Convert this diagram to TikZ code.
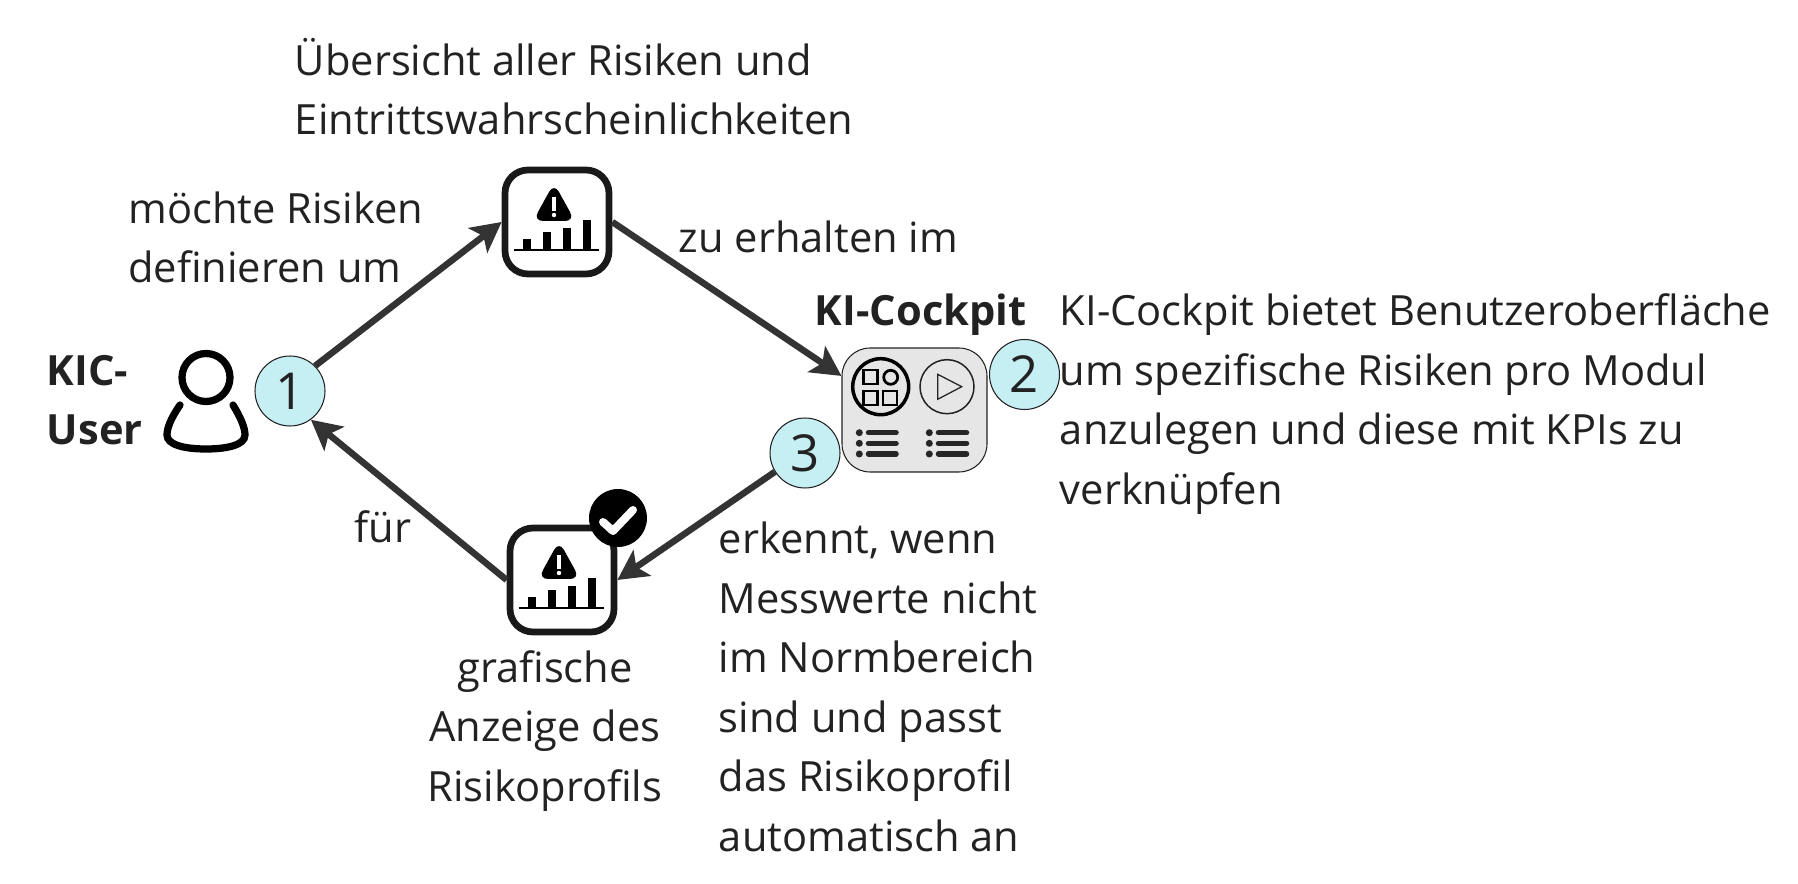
\documentclass[tikz,border=0pt]{standalone}
\usepackage{fontspec}
\setmainfont{Open Sans}
\usetikzlibrary{arrows.meta}
\definecolor{inktext}{HTML}{222222}
\definecolor{arrowgray}{HTML}{333333}
\definecolor{stepblue}{HTML}{C6EFF4}
\definecolor{panelgray}{HTML}{E6E6E6}
\tikzset{
    plaintext/.style={inner sep=0pt, text=inktext, font=\fontsize{23.7}{33.9}\selectfont, align=left, anchor=base west},
    boldtext/.style={plaintext, font=\fontsize{23.7}{33.9}\selectfont\bfseries},
    stepnum/.style={circle, draw=inktext, line width=0.6pt, fill=stepblue, minimum size=1.4cm, inner sep=0pt, text=inktext, font=\fontsize{29}{34}\selectfont},
    iconbox/.style={rectangle, rounded corners=0.46cm, draw=black!90, line width=0.135cm, fill=white, minimum size=2.08cm, inner sep=0pt},
    link/.style={-{Stealth[length=0.6cm, width=0.62cm, inset=0.14cm]}, draw=arrowgray, line width=0.13cm},
    risk/.pic={
        \fill[rounded corners=0.2cm] (-3,-39) -- (18,-1) -- (-24,-1) -- cycle;
        \fill[white] (-4.7,-25) rectangle (-1.3,-11);
        \fill[white] (-3,-7) circle (2.2);
        \foreach \xa/\ya in {-34/17, -14/10, 6/6, 26/-2} {
            \fill (\xa,\ya) rectangle (\xa+8,28);
        }
        \draw[line width=0.05cm] (-43,28) -- (42,28);
    }
}
\begin{document}
\begin{tikzpicture}[x=0.02cm, y=-0.02cm]
\useasboundingbox (0,0) rectangle (1798,884);

\node[iconbox] (riskbox) at (557,222) {};
\node[iconbox] (profilebox) at (562,580) {};
\node[rectangle, rounded corners=0.56cm, draw=inktext, line width=0.6pt, fill=panelgray, minimum width=2.9cm, minimum height=2.48cm] (cockpit) at (914.5,410) {};
\node[stepnum] (stepa) at (290,391) {1};
\node[stepnum] (stepb) at (1024.5,374.5) {2};
\node[stepnum] (stepc) at (805,453) {3};
\node[circle, fill=black, minimum size=1.16cm, inner sep=0pt] (badge) at (618,518) {};

\pic at (557,222) {risk};
\pic at (562,580) {risk};

\draw[white, line width=0.16cm, line cap=round, line join=round] (603,522) -- (613,531) -- (633,510);

\draw[black, line width=0.145cm] (206,377.5) circle (24);
\draw[black, line width=0.145cm, line cap=round] (180,405) .. controls (171,418) and (167,428) .. (167,435) .. controls (167,445) and (185,449) .. (206,449) .. controls (227,449) and (245,445) .. (245,435) .. controls (245,428) and (241,418) .. (233,405);

\draw[black, line width=0.07cm] (880.7,386.7) circle (28);
\draw[black, line width=0.055cm] (863.5,370) rectangle (877.5,384);
\draw[black, line width=0.055cm] (890.7,377.3) circle (7);
\draw[black, line width=0.055cm] (863.5,391) rectangle (877.5,405);
\draw[black, line width=0.055cm] (883,391) rectangle (897,405);
\draw[inktext, line width=0.03cm] (947,386.7) circle (27);
\draw[inktext, line width=0.025cm] (937.7,374.3) -- (961.7,386.7) -- (937.7,399.3) -- cycle;
\foreach \ya in {432.7,443.3,454} {
    \fill[black!85] (859.3,\ya) circle (3.5);
    \fill[black!85] (929.3,\ya) circle (3.5);
    \draw[black!85, line width=0.11cm, line cap=round] (868.5,\ya) -- (896,\ya);
    \draw[black!85, line width=0.11cm, line cap=round] (938.5,\ya) -- (966.5,\ya);
}

\draw[link] (stepa.north east) -- (riskbox.west);
\draw[link] (riskbox.east) -- (cockpit.155);
\draw[link] (stepc.212) -- (profilebox.east);
\draw[link] (profilebox.west) -- (stepa.-54);

\node[boldtext] (userlabel) at (46.5,445) {KIC-\\User};
\node[plaintext] (overview) at (294.5,135) {Übersicht aller Risiken und\\Eintrittswahrscheinlichkeiten};
\node[plaintext] (define) at (128,283) {möchte Risiken\\definieren um};
\node[plaintext] (receive) at (678.5,253) {zu erhalten im};
\node[boldtext] (cockpitlabel) at (814.5,326) {KI-Cockpit};
\node[plaintext] (cockpitnote) at (1059.5,504.5) {KI-Cockpit bietet Benutzeroberfläche\\um spezifische Risiken pro Modul\\anzulegen und diese mit KPIs zu\\verknüpfen};
\node[plaintext] (forlabel) at (354,543) {für};
\node[plaintext, align=center, anchor=base] (profilenote) at (545,801.5) {grafische\\Anzeige des\\Risikoprofils};
\node[plaintext] (detectnote) at (718.5,851.5) {erkennt, wenn\\Messwerte nicht\\im Normbereich\\sind und passt\\das Risikoprofil\\automatisch an};
\end{tikzpicture}
\end{document}
